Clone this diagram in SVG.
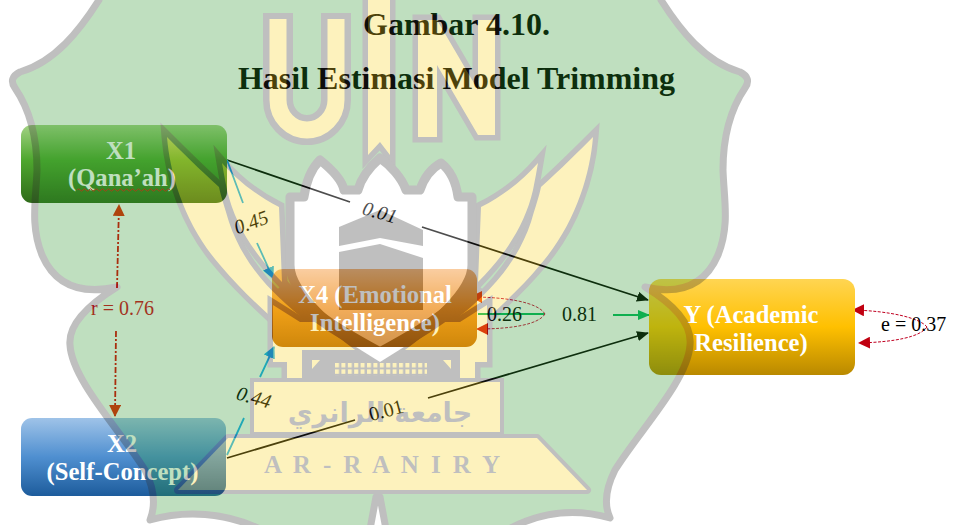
<svg xmlns="http://www.w3.org/2000/svg" width="956" height="525" viewBox="0 0 956 525">
<style>
.t{font-family:"Liberation Serif","Times New Roman",serif}
.title{font-size:32px;font-weight:bold;text-anchor:middle;fill:#000}
.nt{font-size:24.6px;font-weight:bold;text-anchor:middle;fill:#fff}
.n{font-size:20px;fill:#000}
.i{font-size:20px;font-style:italic;fill:#000;text-anchor:middle}
.line{fill:none;stroke-width:1.8}
.loop{fill:none;stroke-width:1;stroke-dasharray:3 1.5}
.rr{fill:none;stroke:#e00000;stroke-width:1.8;stroke-dasharray:6 2 2 2}
.wg{fill:#2d2d2d}
.wy{fill:#fad728;stroke:#2d2d2d;stroke-width:11;paint-order:stroke;stroke-linejoin:miter;stroke-miterlimit:12}
</style>
<defs>
<linearGradient id="gG" x1="0" y1="0" x2="0" y2="1"><stop offset="0" stop-color="#a3d284"/><stop offset=".45" stop-color="#4ea72e"/><stop offset="1" stop-color="#2f6b1a"/></linearGradient>
<linearGradient id="gO" x1="0" y1="0" x2="0" y2="1"><stop offset="0" stop-color="#f8b878"/><stop offset=".5" stop-color="#ee8a12"/><stop offset="1" stop-color="#bd6500"/></linearGradient>
<linearGradient id="gY" x1="0" y1="0" x2="0" y2="1"><stop offset="0" stop-color="#ffd552"/><stop offset=".5" stop-color="#ffc000"/><stop offset="1" stop-color="#b98900"/></linearGradient>
<linearGradient id="gB" x1="0" y1="0" x2="0" y2="1"><stop offset="0" stop-color="#9fc3e8"/><stop offset=".5" stop-color="#4f8fd0"/><stop offset="1" stop-color="#1d5c9c"/></linearGradient>
<marker id="mK" viewBox="0 0 12 10" refX="11" refY="5" markerWidth="12" markerHeight="10" markerUnits="userSpaceOnUse" orient="auto"><path d="M0 0L12 5L0 10Z" fill="#000"/></marker>
<marker id="mT" viewBox="0 0 12 12" refX="11" refY="6" markerWidth="12" markerHeight="12" markerUnits="userSpaceOnUse" orient="auto"><path d="M0 0L12 6L0 12Z" fill="#19b0f3"/></marker>
<marker id="mG" viewBox="0 0 12 10" refX="11" refY="5" markerWidth="12" markerHeight="10" markerUnits="userSpaceOnUse" orient="auto"><path d="M0 0L12 5L0 10Z" fill="#03ba5f"/></marker>
<marker id="mR" viewBox="0 0 12 12" refX="11" refY="6" markerWidth="12" markerHeight="12" markerUnits="userSpaceOnUse" orient="auto"><path d="M0 0L12 6L0 12Z" fill="#e82000"/></marker>
<marker id="mO" viewBox="0 0 12 12" refX="11" refY="6" markerWidth="12" markerHeight="12" markerUnits="userSpaceOnUse" orient="auto"><path d="M0 0L12 6L0 12Z" fill="#ff4800"/></marker>
<marker id="mD" viewBox="0 0 12 12" refX="11" refY="6" markerWidth="12" markerHeight="12" markerUnits="userSpaceOnUse" orient="auto"><path d="M0 0L12 6L0 12Z" fill="#d00000"/></marker>
<marker id="mE" viewBox="0 0 12 12" refX="11" refY="6" markerWidth="12" markerHeight="12" markerUnits="userSpaceOnUse" orient="auto"><path d="M0 0L12 6L0 12Z" fill="#c00010"/></marker>
<pattern id="dots" x="335" y="363" width="6.4" height="6.4" patternUnits="userSpaceOnUse"><rect width="4" height="4.4" fill="#fad728"/></pattern>
<path id="f1" d="M593,137C590,175 575,225 540,265C515,295 490,315 470,335L455,320C480,300 515,270 531,222C535,208 539,197 541,187C560,170 580,150 593,137Z"/>
<path id="f2" d="M538,163C525,178 505,195 481,207L478,282C505,255 525,225 533,190Q536,175 538,163Z"/>
</defs>
<rect width="956" height="525" fill="#fff"/>
<g id="title" class="t">
<text class="title t" x="456.5" y="35">Gambar 4.10.</text>
<text class="title t" x="456.5" y="89">Hasil Estimasi Model Trimming</text>
</g>
<g id="connectors">
<path class="line" stroke="#000" d="M227,160L350,202M422,227L648,300" marker-end="url(#mK)"/>
<path class="line" stroke="#000" d="M227,458L355,420M428,398L648,333" marker-end="url(#mK)"/>
<path class="line" stroke="#19b0f3" d="M227,160L243,203M257,243L273,278" marker-end="url(#mT)"/>
<path class="line" stroke="#19b0f3" d="M227,455L244,418M260,377L274,347" marker-end="url(#mT)"/>
<path class="line" stroke="#03ba5f" d="M478,314H545"/>
<path class="line" stroke="#03ba5f" d="M613,315H649" marker-end="url(#mG)"/>
<path class="rr" d="M117,288L119,205" marker-end="url(#mR)"/>
<path class="rr" d="M116,331L115,416" marker-end="url(#mR)"/>
<path class="loop" stroke="#d01040" d="M545,314C538,302 505,297 471,297" marker-end="url(#mO)"/>
<path class="loop" stroke="#d01040" d="M545,314C538,325 510,329 477,329" marker-end="url(#mD)"/>
<path class="loop" stroke="#c00020" d="M927,327C920,318 890,311 853,310" marker-end="url(#mE)"/>
<path class="loop" stroke="#c00020" d="M927,327C920,337 895,342 859,343" marker-end="url(#mE)"/>
</g>
<g id="labels" class="t">
<text class="i t" transform="translate(380,212) rotate(16)" y="7">0.01</text>
<text class="i t" transform="translate(251,222) rotate(-20)" y="7">0.45</text>
<text class="i t" transform="translate(254,397) rotate(16)" y="7">0.44</text>
<text class="n t" transform="translate(386,410) rotate(-15)" text-anchor="middle" y="7">0.01</text>
<text class="n t" x="487" y="321">0.26</text>
<text class="n t" x="562" y="321">0.81</text>
<text class="n t" x="91" y="315" style="fill:#d80419">r = 0.76</text>
<text class="n t" x="881" y="331">e = 0.37</text>
</g>
<g id="X1">
<rect x="21" y="125" width="206" height="78" rx="11" fill="url(#gG)"/>
<text class="nt t" x="121" y="159">X1</text>
<text class="nt t" x="122" y="186">(Qana’ah)</text>
<path fill="none" stroke="#d81e10" stroke-width="1" d="M77 190q1.5-2.4 3 0t3 0t3 0t3 0t3 0t3 0t3 0t3 0t3 0t3 0t3 0t3 0t3 0t3 0t3 0t3 0t3 0t3 0t3 0t3 0t3 0t3 0t3 0t3 0t3 0t3 0t3 0t3 0t3 0t3 0t3 0"/>
</g>
<g id="X2">
<rect x="21" y="418" width="205" height="78" rx="11" fill="url(#gB)"/>
<text class="nt t" x="122" y="452">X2</text>
<text class="nt t" x="122.500" y="480" textLength="152">(Self-Concept)</text>
</g>
<g id="X4">
<rect x="272" y="269" width="205" height="78" rx="11" fill="url(#gO)"/>
<text class="nt t" x="375" y="303">X4 (Emotional</text>
<text class="nt t" x="375" y="331">Intelligence)</text>
</g>
<g id="Y">
<rect x="649" y="279" width="206" height="96" rx="12" fill="url(#gY)"/>
<text class="nt t" x="751" y="323">Y (Academic</text>
<text class="nt t" x="751" y="351">Resilience)</text>
</g>
<g id="watermark" opacity="0.3">
<path fill="#2d982d" stroke="#2d2d2d" stroke-width="7" stroke-linejoin="round" d="M661,-10L661,0C680,30 705,62 740,72Q752,78 745,88C730,110 723,140 723,170C724,200 730,225 718,255C705,285 680,295 645,287C675,305 692,325 690,345C688,380 640,430 615,470C606,488 604,505 610,518C575,508 540,512 507,530L507,540L388,540L380,497L376,497L368,540L262,540L262,530C225,512 185,510 150,520C156,505 154,488 145,470C120,430 72,380 70,345C68,325 88,305 117,287C80,295 55,285 42,255C30,225 36,200 37,170C37,140 30,110 15,88Q8,78 20,72C55,62 80,30 99,0L99,-10Z"/>
<path fill="none" stroke="#2d2d2d" stroke-width="30" d="M278,13V100A29,30 0 0 0 336,100V13"/>
<path fill="none" stroke="#fad728" stroke-width="17" d="M278,19V100A29,30 0 0 0 336,100V19"/>
<path class="wy" d="M368,-10H390V155L380,142L368,155Z"/>
<path class="wy" d="M418,20H437L478,90V20H495V135H478L437,65V137H418Z"/>
<use href="#f1" class="wy"/><use href="#f2" class="wy"/>
<use href="#f1" class="wy" transform="matrix(-1 0 0 1 760 0)"/><use href="#f2" class="wy" transform="matrix(-1 0 0 1 760 0)"/>
<path class="wy" d="M273,305L300,322H460L487,305V362H475V378H287V362H273Z"/>
<path fill="#fff" stroke="#2d2d2d" stroke-width="9" stroke-linejoin="round" d="M290,197H304C306,182 312,168 320,160C330,168 342,180 344,190H358C362,175 372,165 380,158C390,165 402,178 406,190H420C424,178 432,168 441,163C450,170 456,182 458,197H472V265C472,295 420,335 380,362C340,335 290,295 290,265Z"/>
<path fill="none" stroke="#2d2d2d" stroke-width="13" d="M282,285C310,315 345,335 380,354C415,335 450,315 478,285"/>
<path class="wg" d="M339,227L380,210L423,230V246L380,238L339,246Z"/>
<path class="wg" d="M339,252L380,244L423,258V310H339Z"/>
<rect class="wg" x="302" y="350" width="158" height="33"/>
<path d="M380,362L356,347H404Z" fill="#fff"/>
<rect x="335" y="363" width="92" height="12.4" fill="url(#dots)"/>
<path d="M312,360L320,360L312,369ZM451,360L443,360L451,369Z" fill="#fad728"/>
<rect class="wy" x="254" y="382" width="246" height="50" style="stroke-width:8"/>
<path class="wy" style="stroke-width:8;stroke-linejoin:round" d="M228,438H537L587,490H178Z"/>
<text x="380" y="422" text-anchor="middle" font-family="'DejaVu Sans',sans-serif" font-size="27" font-weight="bold" fill="#2d2d2d" direction="rtl">جامعة الرانري</text>
<text class="t" x="264" y="473" font-size="25" font-weight="bold" fill="#2d2d2d" textLength="236" lengthAdjust="spacing">A R - R A N I R Y</text>
</g>
</svg>
